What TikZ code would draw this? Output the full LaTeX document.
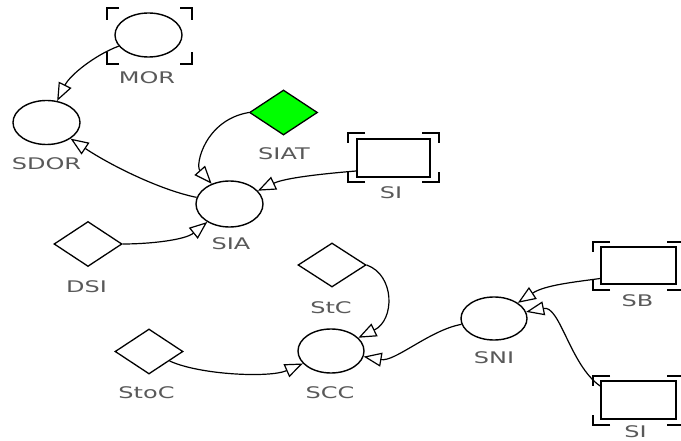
\documentclass[tikz,border=0pt]{standalone}
\usepackage{fontspec}
\usetikzlibrary{shapes.geometric,arrows.meta}
\newfontfamily\lblfont[FakeStretch=1.5]{DejaVu Sans}
\newcommand\cornerbox[6]{%
  \draw[brk] (#1+#5,#2) -- (#1,#2) -- (#1,#2+#6);
  \draw[brk] (#3-#5,#2) -- (#3,#2) -- (#3,#2+#6);
  \draw[brk] (#1+#5,#4) -- (#1,#4) -- (#1,#4-#6);
  \draw[brk] (#3-#5,#4) -- (#3,#4) -- (#3,#4-#6);}
\begin{document}
\begin{tikzpicture}[x=1pt,y=-1pt,
  ell/.style={ellipse, draw, line width=1.4pt, minimum width=67pt, minimum height=44pt, inner sep=0pt},
  dia/.style={diamond, draw, line width=1.3pt, minimum width=68pt, minimum height=45pt, inner sep=0pt},
  boxn/.style={rectangle, draw, line width=1.8pt, minimum width=74pt, minimum height=37pt, inner sep=0pt},
  lbl/.style={font=\lblfont\fontsize{16}{18}\selectfont, text=black!65, inner sep=0pt},
  conn/.style={line width=1.2pt, -{Triangle[fill=white, length=18pt, width=14pt, line width=1.2pt]}},
  brk/.style={line width=1.8pt}]
\useasboundingbox (0,0) rectangle (681,441);
\clip (0,0) rectangle (681,441);
% nodes
\node[ell] (MOR) at (148.5,35) {};
\node[ell] (SDOR) at (46.5,122.5) {};
\node[dia, fill={rgb,255:red,0;green,255;blue,0}] (SIAT) at (283.5,112.5) {};
\node[ell, minimum height=46pt] (SIA) at (229.5,204) {};
\node[boxn, minimum width=73pt, minimum height=38pt] (SItop) at (393.5,158) {};
\node[dia] (DSI) at (88,244) {};
\node[dia, minimum height=44pt] (StC) at (332,265) {};
\node[dia] (StoC) at (149,351.5) {};
\node[ell, minimum width=66pt] (SCC) at (331,351) {};
\node[ell, minimum width=66pt, minimum height=43pt] (SNI) at (494,318.5) {};
\node[boxn, minimum width=75pt] (SB) at (638.5,265.5) {};
\node[boxn, minimum width=75pt, minimum height=38pt] (SIbot) at (638.5,400) {};
% brackets
\cornerbox{107}{8}{192}{64}{12}{12}
\cornerbox{348}{133}{439}{182}{17}{10}
\cornerbox{593}{242}{684}{290}{17}{10}
\cornerbox{593}{376}{684}{425}{17}{10}
% labels
\node[lbl] (lMOR) at (147,77.5) {MOR};
\node[lbl] (lSDOR) at (46.5,164) {SDOR};
\node[lbl] (lSIAT) at (284,153.5) {SIAT};
\node[lbl] (lSItop) at (391,192.5) {SI};
\node[lbl] (lSIA) at (231,244) {SIA};
\node[lbl] (lDSI) at (86.5,287) {DSI};
\node[lbl] (lStC) at (331,308) {StC};
\node[lbl] (lStoC) at (146.5,393) {StoC};
\node[lbl] (lSCC) at (330,393) {SCC};
\node[lbl] (lSNI) at (494,358) {SNI};
\node[lbl] (lSB) at (637.5,301) {SB};
\node[lbl] (lSIbot) at (635.5,432) {SI};
% connectors
\draw[conn] (MOR) .. controls (95,55) and (70,75) .. (SDOR);
\draw[conn] (SIA) .. controls (160,190) and (110,165) .. (SDOR);
\draw[conn] (SIAT.west) .. controls (205,120) and (195,165) .. (SIA);
\draw[conn] ([shift={(0,13)}]SItop.west) .. controls (320,174) and (285,178) .. (SIA);
\draw[conn] (DSI.east) .. controls (150,244) and (185,240) .. (SIA);
\draw[conn] (StC.east) .. controls (395,275) and (395,320) .. (SCC);
\draw[conn] (StoC) .. controls (200,375) and (270,378) .. (SCC);
\draw[conn] (SNI) .. controls (430,330) and (395,362) .. (SCC);
\draw[conn] ([shift={(0,13)}]SB.west) .. controls (575,282) and (545,285) .. (SNI);
\draw[conn] ([shift={(0,-14)}]SIbot.west) .. controls (570,365) and (560,305) .. (SNI);
\end{tikzpicture}
\end{document}
